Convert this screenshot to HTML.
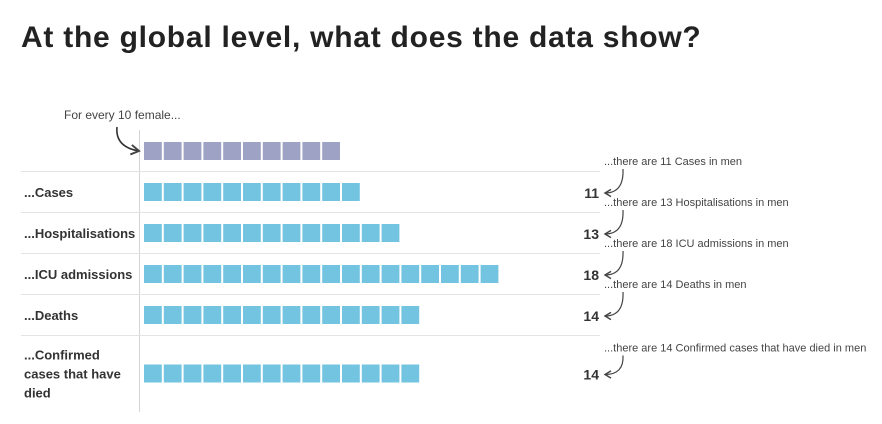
<!DOCTYPE html>
<html><head><meta charset="utf-8"><style>
body{margin:0;background:#fff;width:882px;height:424px;overflow:hidden;font-family:"Liberation Sans",sans-serif}
h1{position:absolute;left:21px;top:21px;margin:0;font-size:30px;font-weight:bold;color:#222;letter-spacing:0.75px;white-space:nowrap}
</style></head><body>
<h1>At the global level, what does the data show?</h1>
<svg id="c" width="882" height="424" style="position:absolute;left:0;top:0">
<defs><marker id="ah" markerWidth="8" markerHeight="8" refX="6" refY="4" orient="auto"><path d="M1,1 L6,4 L1,7" fill="none" stroke="#444" stroke-width="1.2"/></marker></defs>
</svg>
<script>
const categories=["...Cases","...Hospitalisations","...ICU admissions","...Deaths","...Confirmed cases that have died"];
const labelLines=[["...Cases"],["...Hospitalisations"],["...ICU admissions"],["...Deaths"],["...Confirmed","cases that have","died"]];
const menValues=[11,13,18,14,14];
const femaleValue=10;
const svg=document.getElementById('c');const NS='http://www.w3.org/2000/svg';
function el(t,a,p){const e=document.createElementNS(NS,t);for(const k in a)e.setAttribute(k,a[k]);(p||svg).appendChild(e);return e;}
const x0=144,pitch=19.8,sw=17.8;
function xs(i){return x0+i*pitch;}
const rowTop=[171,212,253,294,335],rowBot=[212,253,294,335,412];
let v=el('line',{x1:139.5,x2:139.5,y1:130,y2:412,stroke:'#d5d5d5','stroke-width':1});


let ft=el('text',{x:64,y:119,'font-size':12,fill:'#444'});ft.textContent='For every 10 female...';


let fa=el('path',{d:'M117,127 Q115,147 139,151',fill:'none',stroke:'#333','stroke-width':1.6,'marker-end':'url(#ah)'});


for(let i=0;i<femaleValue;i++){const r=el('rect',{x:xs(i),y:142,width:sw,height:18,fill:'#9ea2c4'});

}
categories.forEach((c,k)=>{
  const ln=el('line',{x1:21,x2:600,y1:rowTop[k]+0.5,y2:rowTop[k]+0.5,stroke:'#e4e4e4'});
  
  
  const cy=(rowTop[k]+rowBot[k])/2+(k==4?0:0.5);
  const lines=labelLines[k];
  lines.forEach((t,j)=>{const tx=el('text',{x:24,y:cy+5+(j-(lines.length-1)/2)*19,'font-size':13,'font-weight':'bold',fill:'#333'});tx.textContent=t;
    
    });
  for(let i=0;i<menValues[k];i++){const r=el('rect',{x:xs(i),y:cy-9,width:sw,height:18,fill:'#72c4e0'});
    
    }
  const n=el('text',{x:599,y:cy+6,'font-size':14,'font-weight':'bold',fill:'#333','text-anchor':'end'});n.textContent=menValues[k];
  
  
  const ay=k==4?cy-26:rowTop[k]-10;
  const an=el('text',{x:604,y:ay+4,'font-size':11,fill:'#444'});an.textContent='...there are '+menValues[k]+' '+c.replace('...','')+' in men';
  
  
  const ar=el('path',{d:`M623,${ay+8} Q624,${cy+1} 605,${cy+1}`,fill:'none',stroke:'#444','stroke-width':1.2,'marker-end':'url(#ah)'});
  
  
});
</script>
</body></html>
